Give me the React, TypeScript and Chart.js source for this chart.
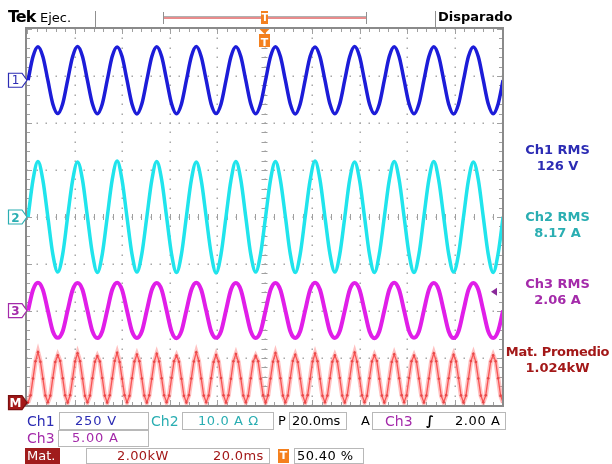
import React, { useEffect, useRef } from "react";
import { Chart, registerables } from "chart.js";
Chart.register(...registerables);

// ---- time base (20.0 ms/div, 10 divisions) ----
const timeMinMs = 0;
const timeMaxMs = 200;
const startMs = 0.45;
const lineStepMs = 200 / 96; // 8 samples per 60 Hz cycle
const powerStepMs = 200 / 192; // 16 samples per 60 Hz cycle

// ---- channel settings ----
const ch1VoltsPerDiv = 250;
const ch2AmpsPerDiv = 10;
const ch3AmpsPerDiv = 5;
const mathKwPerDiv = 2;
const ch1OffsetDiv = 2.91;
const ch2OffsetDiv = 0;
const ch3OffsetDiv = -1.99;
const mathOffsetDiv = -3.95;
const triggerLevelAmps = 2.0;

// ---- waveform readings ----
const ch1Volts = [
  0, 126, 178, 125, 0, -126, -177, -125,
  1, 125, 179, 126, -1, -125, -178, -126,
  0, 126, 177, 126, 0, -126, -179, -125,
  0, 125, 178, 126, 1, -125, -178, -126,
  0, 126, 179, 125, 0, -126, -177, -126,
  -1, 125, 178, 126, 0, -125, -178, -125,
  0, 126, 178, 126, 0, -126, -179, -126,
  1, 126, 177, 125, 0, -125, -178, -125,
  0, 125, 179, 126, -1, -126, -177, -126,
  0, 126, 178, 125, 0, -125, -178, -125,
  0, 125, 178, 126, 1, -126, -179, -126,
  0, 126, 177, 125, 0, -125, -178, -126,
  0,
];
const ch2Amps = [
  0, 7.9, 11.8, 7.8, 0, -7.9, -11.7, -7.9,
  0.1, 7.8, 11.7, 7.9, 0, -7.8, -11.8, -7.9,
  0, 7.9, 11.9, 7.8, -0.1, -7.9, -11.7, -7.8,
  0, 7.8, 11.8, 7.9, 0, -7.9, -11.8, -7.9,
  0.1, 7.9, 11.7, 7.8, 0, -7.8, -11.9, -7.9,
  0, 7.8, 11.8, 7.9, 0, -7.9, -11.7, -7.8,
  0, 7.9, 11.8, 7.8, 0.1, -7.9, -11.8, -7.9,
  0, 7.8, 11.9, 7.9, 0, -7.8, -11.7, -7.9,
  -0.1, 7.9, 11.7, 7.8, 0, -7.9, -11.8, -7.8,
  0, 7.8, 11.8, 7.9, 0, -7.9, -11.8, -7.9,
  0.1, 7.9, 11.8, 7.8, 0, -7.8, -11.7, -7.9,
  0, 7.8, 11.7, 7.9, 0, -7.9, -11.8, -7.8,
  0,
];
const ch3Amps = [
  0, 2.2, 2.95, 2.2, 0, -2.2, -2.9, -2.2,
  0.02, 2.18, 2.92, 2.21, 0, -2.19, -2.93, -2.2,
  0, 2.21, 2.96, 2.19, -0.02, -2.2, -2.91, -2.21,
  0, 2.19, 2.93, 2.2, 0, -2.21, -2.94, -2.19,
  0.02, 2.2, 2.95, 2.21, 0, -2.2, -2.9, -2.2,
  0, 2.21, 2.92, 2.19, 0, -2.19, -2.93, -2.21,
  0, 2.2, 2.94, 2.2, 0.02, -2.2, -2.92, -2.2,
  0, 2.19, 2.96, 2.21, 0, -2.21, -2.91, -2.19,
  -0.02, 2.2, 2.93, 2.2, 0, -2.2, -2.94, -2.2,
  0, 2.21, 2.95, 2.19, 0, -2.19, -2.9, -2.21,
  0.02, 2.2, 2.92, 2.2, 0, -2.2, -2.93, -2.2,
  0, 2.19, 2.94, 2.21, 0, -2.21, -2.92, -2.19,
  0,
];
const mathKw = [
  0.01, 0.31, 1.03, 1.76, 2.15, 1.74, 1.02, 0.30,
  0.02, 0.30, 1.05, 1.73, 2.02, 1.77, 1.04, 0.31,
  0.01, 0.32, 1.02, 1.75, 2.10, 1.76, 1.03, 0.29,
  0.02, 0.30, 1.04, 1.74, 1.98, 1.75, 1.05, 0.30,
  0.01, 0.31, 1.03, 1.77, 2.12, 1.73, 1.02, 0.32,
  0.02, 0.29, 1.04, 1.75, 2.05, 1.76, 1.03, 0.30,
  0.01, 0.31, 1.02, 1.74, 2.08, 1.75, 1.04, 0.31,
  0.02, 0.30, 1.05, 1.76, 2.00, 1.74, 1.02, 0.29,
  0.01, 0.32, 1.03, 1.75, 2.14, 1.77, 1.03, 0.30,
  0.02, 0.30, 1.04, 1.73, 2.03, 1.75, 1.05, 0.31,
  0.01, 0.31, 1.02, 1.76, 2.07, 1.74, 1.03, 0.30,
  0.02, 0.29, 1.04, 1.75, 1.99, 1.76, 1.02, 0.32,
  0.01, 0.31, 1.03, 1.74, 2.11, 1.75, 1.04, 0.30,
  0.02, 0.30, 1.05, 1.77, 2.04, 1.73, 1.03, 0.31,
  0.01, 0.32, 1.02, 1.75, 2.09, 1.76, 1.02, 0.29,
  0.02, 0.30, 1.04, 1.74, 2.01, 1.75, 1.05, 0.30,
  0.01, 0.31, 1.03, 1.76, 2.13, 1.74, 1.03, 0.31,
  0.02, 0.29, 1.04, 1.75, 2.02, 1.77, 1.02, 0.30,
  0.01, 0.30, 1.02, 1.73, 2.06, 1.75, 1.04, 0.32,
  0.02, 0.31, 1.05, 1.76, 2.00, 1.74, 1.03, 0.30,
  0.01, 0.30, 1.03, 1.75, 2.10, 1.76, 1.02, 0.29,
  0.02, 0.32, 1.04, 1.74, 2.04, 1.75, 1.05, 0.31,
  0.01, 0.30, 1.02, 1.77, 2.08, 1.73, 1.03, 0.30,
  0.02, 0.31, 1.04, 1.75, 2.02, 1.76, 1.04, 0.30,
  0.01,
];

const C1 = "#1c1cd8";
const C2 = "#20e4ec";
const C3 = "#e01ee8";
const CM = "#f02828";
const T1 = "#2c2cb4";
const T2 = "#2aaeb2";
const T3 = "#a42aaa";
const TM = "#a31818";
const ORANGE = "#f4801e";
const FONT = '"DejaVu Sans", sans-serif';

const axisFor = (perDiv: number, offsetDiv: number) => ({
  display: false,
  min: (-4 - offsetDiv) * perDiv,
  max: (4 - offsetDiv) * perDiv,
});

const toPoints = (vals: number[], step: number) =>
  vals.map((v, i) => ({ x: startMs + i * step, y: v }));

const markerShape = (ctx: CanvasRenderingContext2D, y: number, fill: string, stroke: string) => {
  ctx.beginPath();
  ctx.moveTo(8.5, y - 7);
  ctx.lineTo(22, y - 7);
  ctx.lineTo(27, y);
  ctx.lineTo(22, y + 7);
  ctx.lineTo(8.5, y + 7);
  ctx.closePath();
  ctx.fillStyle = fill;
  ctx.fill();
  ctx.strokeStyle = stroke;
  ctx.lineWidth = 1.2;
  ctx.stroke();
};

const scopePlugin = {
  id: "scope",
  beforeDatasetsDraw(chart: any) {
    const { ctx, chartArea: a, scales } = chart;
    const xs = scales.x;
    const divW = (a.right - a.left) / 10;
    const divH = (a.bottom - a.top) / 8;
    const cx = xs.getPixelForValue((timeMinMs + timeMaxMs) / 2);
    const cy = (a.top + a.bottom) / 2;
    ctx.save();
    ctx.fillStyle = "#a8a8a8";
    for (let i = 1; i < 10; i++) {
      const x = Math.round(xs.getPixelForValue(timeMinMs + i * 20));
      for (let j = 0; j <= 40; j++) {
        const y = Math.round(a.top + (j * divH) / 5);
        ctx.fillRect(x - 0.5, y - 0.5, 1.5, 1.5);
      }
    }
    for (let j = 1; j < 8; j++) {
      const y = Math.round(a.top + j * divH);
      for (let i = 0; i <= 50; i++) {
        const x = Math.round(a.left + (i * divW) / 5);
        ctx.fillRect(x - 0.5, y - 0.5, 1.5, 1.5);
      }
    }
    ctx.strokeStyle = "#a0a0a0";
    ctx.lineWidth = 1;
    ctx.beginPath();
    for (let i = 0; i <= 50; i++) {
      const x = Math.round(a.left + (i * divW) / 5) + 0.5;
      ctx.moveTo(x, cy - 3);
      ctx.lineTo(x, cy + 3);
      ctx.moveTo(x, a.top);
      ctx.lineTo(x, a.top + (i % 5 === 0 ? 5 : 3));
      ctx.moveTo(x, a.bottom);
      ctx.lineTo(x, a.bottom - (i % 5 === 0 ? 5 : 3));
    }
    for (let j = 0; j <= 40; j++) {
      const y = Math.round(a.top + (j * divH) / 5) + 0.5;
      ctx.moveTo(cx - 3, y);
      ctx.lineTo(cx + 3, y);
      ctx.moveTo(a.left, y);
      ctx.lineTo(a.left + (j % 5 === 0 ? 5 : 3), y);
      ctx.moveTo(a.right, y);
      ctx.lineTo(a.right - (j % 5 === 0 ? 5 : 3), y);
    }
    ctx.stroke();
    ctx.strokeStyle = "#8a8a8a";
    ctx.lineWidth = 2;
    ctx.strokeRect(a.left - 1, a.top - 1, a.right - a.left + 2, a.bottom - a.top + 2);
    ctx.restore();
  },
  afterDraw(chart: any) {
    const { ctx, chartArea: a, scales } = chart;
    const xs = scales.x;
    const tx = xs.getPixelForValue((timeMinMs + timeMaxMs) / 2);
    ctx.save();
    markerShape(ctx, scales.y1.getPixelForValue(0), "#ffffff", T1);
    markerShape(ctx, scales.y2.getPixelForValue(0), "#ffffff", T2);
    markerShape(ctx, scales.y3.getPixelForValue(0), "#ffffff", T3);
    markerShape(ctx, scales.ym.getPixelForValue(0), TM, "#7a1010");
    const ty = scales.y3.getPixelForValue(triggerLevelAmps);
    ctx.fillStyle = "#8a2a9a";
    ctx.beginPath();
    ctx.moveTo(a.right - 11, ty);
    ctx.lineTo(a.right - 5, ty - 4);
    ctx.lineTo(a.right - 5, ty + 4);
    ctx.closePath();
    ctx.fill();
    ctx.fillStyle = ORANGE;
    ctx.beginPath();
    ctx.moveTo(tx - 5, a.top);
    ctx.lineTo(tx + 5, a.top);
    ctx.lineTo(tx, a.top + 5);
    ctx.closePath();
    ctx.fill();
    ctx.fillRect(tx - 5.5, a.top + 5, 11, 13);
    ctx.strokeStyle = "#909090";
    ctx.lineWidth = 1;
    ctx.beginPath();
    ctx.moveTo(95.5, 11);
    ctx.lineTo(95.5, 27);
    ctx.moveTo(435.5, 11);
    ctx.lineTo(435.5, 27);
    ctx.moveTo(163.5, 12);
    ctx.lineTo(163.5, 24);
    ctx.moveTo(366.5, 12);
    ctx.lineTo(366.5, 24);
    ctx.stroke();
    ctx.strokeStyle = "#e88c8c";
    ctx.lineWidth = 2;
    ctx.beginPath();
    ctx.moveTo(164, 18);
    ctx.lineTo(366, 18);
    ctx.stroke();
    ctx.strokeStyle = "#b0b0b0";
    ctx.lineWidth = 1;
    ctx.beginPath();
    ctx.moveTo(164, 16.5);
    ctx.lineTo(366, 16.5);
    ctx.stroke();
    ctx.fillStyle = ORANGE;
    ctx.fillRect(tx - 3.5, 11, 7, 13);
    ctx.restore();
  },
};

const Txt = (p: any) => (
  <div
    style={{
      position: "absolute",
      left: p.x,
      top: p.y,
      width: p.w,
      textAlign: p.align || "left",
      color: p.color || "#000",
      font: `${p.weight || "normal"} ${p.size || 13}px ${FONT}`,
      letterSpacing: p.ls !== undefined ? p.ls : 0,
      lineHeight: "16px",
      whiteSpace: "nowrap",
      background: p.bg,
    }}
  >
    {p.children}
  </div>
);

const Box = (p: any) => (
  <div
    style={{
      position: "absolute",
      left: p.x,
      top: p.y,
      width: p.w,
      height: p.h,
      border: "1px solid #b8b8b8",
      boxSizing: "border-box",
      background: p.bg,
    }}
  />
);

export default function App() {
  const ref = useRef<HTMLCanvasElement>(null);
  useEffect(() => {
    document.body.style.margin = "0";
    const chart = new Chart(ref.current as HTMLCanvasElement, {
      type: "line",
      data: {
        datasets: [
          {
            data: toPoints(ch1Volts, lineStepMs),
            yAxisID: "y1",
            borderColor: C1,
            borderWidth: 3.5,
            pointRadius: 0,
            cubicInterpolationMode: "monotone",
          },
          {
            data: toPoints(ch2Amps, lineStepMs),
            yAxisID: "y2",
            borderColor: C2,
            borderWidth: 3.5,
            pointRadius: 0,
            cubicInterpolationMode: "monotone",
          },
          {
            data: toPoints(ch3Amps, lineStepMs),
            yAxisID: "y3",
            borderColor: C3,
            borderWidth: 4,
            pointRadius: 0,
            cubicInterpolationMode: "monotone",
          },
          {
            data: toPoints(mathKw, powerStepMs),
            yAxisID: "ym",
            borderColor: "rgba(255,130,130,0.5)",
            borderWidth: 4.5,
            pointRadius: 0,
          },
          {
            data: toPoints(mathKw, powerStepMs),
            yAxisID: "ym",
            borderColor: CM,
            borderWidth: 1.3,
            pointRadius: 1.3,
            pointBorderWidth: 0,
            pointBackgroundColor: "#d01010",
          },
        ],
      } as any,
      options: {
        animation: false,
        responsive: false,
        maintainAspectRatio: false,
        events: [],
        layout: { padding: { left: 27, top: 29, right: 110, bottom: 59 } },
        plugins: { legend: { display: false }, tooltip: { enabled: false } },
        scales: {
          x: { type: "linear", display: false, min: timeMinMs, max: timeMaxMs },
          y1: axisFor(ch1VoltsPerDiv, ch1OffsetDiv),
          y2: axisFor(ch2AmpsPerDiv, ch2OffsetDiv),
          y3: axisFor(ch3AmpsPerDiv, ch3OffsetDiv),
          ym: axisFor(mathKwPerDiv, mathOffsetDiv),
        } as any,
      },
      plugins: [scopePlugin],
    });
    return () => chart.destroy();
  }, []);

  return (
    <div style={{ position: "fixed", left: 0, top: 0, width: 612, height: 464, background: "#fff", overflow: "hidden" }}>
      <canvas ref={ref} width={612} height={464} style={{ position: "absolute", left: 0, top: 0 }} />
      {/* header */}
      <Txt x={8} y={9} size={16} weight="bold" ls={-1}>Tek</Txt>
      <Txt x={40} y={10} size={13}>Ejec.</Txt>
      <Txt x={261} y={10} size={10} weight="bold" color="#fff" w={8} align="center">T</Txt>
      <Txt x={438} y={9} size={13} weight="bold">Disparado</Txt>
      <Txt x={259} y={35} size={11} weight="bold" color="#fff" w={11} align="center">T</Txt>
      {/* channel markers */}
      <Txt x={9} y={72} size={12} color={T1} w={13} align="center">1</Txt>
      <Txt x={9} y={210} size={12} weight="bold" color={T2} w={13} align="center">2</Txt>
      <Txt x={9} y={303} size={12} weight="bold" color={T3} w={13} align="center">3</Txt>
      <Txt x={9} y={395} size={12} weight="bold" color="#fff" w={13} align="center">M</Txt>
      {/* right readouts */}
      <Txt x={503} y={142} w={109} align="center" weight="bold" color={T1}>Ch1 RMS</Txt>
      <Txt x={503} y={158} w={109} align="center" weight="bold" color={T1}>126 V</Txt>
      <Txt x={503} y={209} w={109} align="center" weight="bold" color={T2}>Ch2 RMS</Txt>
      <Txt x={503} y={225} w={109} align="center" weight="bold" color={T2}>8.17 A</Txt>
      <Txt x={503} y={276} w={109} align="center" weight="bold" color={T3}>Ch3 RMS</Txt>
      <Txt x={503} y={292} w={109} align="center" weight="bold" color={T3}>2.06 A</Txt>
      <Txt x={501} y={344} w={113} align="center" weight="bold" color={TM} ls={-0.3}>Mat. Promedio</Txt>
      <Txt x={503} y={360} w={109} align="center" weight="bold" color={TM}>1.024kW</Txt>
      {/* bottom row 1 */}
      <Box x={59} y={412} w={90} h={18} />
      <Box x={182} y={412} w={92} h={18} />
      <Box x={289} y={412} w={58} h={18} />
      <Box x={372} y={412} w={134} h={18} />
      <Txt x={27} y={413} size={14} color={T1}>Ch1</Txt>
      <Txt x={75} y={413} size={13} color={T1} ls={0.8}>250 V</Txt>
      <Txt x={151} y={413} size={14} color={T2}>Ch2</Txt>
      <Txt x={198} y={413} size={13} color={T2} ls={0.6}>10.0 A Ω</Txt>
      <Txt x={278} y={413} size={13}>P</Txt>
      <Txt x={292} y={413} size={13}>20.0ms</Txt>
      <Txt x={361} y={413} size={13}>A</Txt>
      <Txt x={385} y={413} size={14} color={T3}>Ch3</Txt>
      <Txt x={426} y={413} size={13} weight="bold">∫</Txt>
      <Txt x={455} y={413} size={13} ls={0.6}>2.00 A</Txt>
      {/* bottom row 2 */}
      <Box x={58} y={430} w={91} h={17} />
      <Txt x={27} y={430} size={14} color={T3}>Ch3</Txt>
      <Txt x={72} y={430} size={13} color={T3} ls={0.8}>5.00 A</Txt>
      {/* bottom row 3 */}
      <div style={{ position: "absolute", left: 25, top: 448, width: 35, height: 16, background: "#a01c1c" }} />
      <Txt x={27} y={448} size={13} color="#fff">Mat.</Txt>
      <Box x={86} y={448} w={184} h={16} />
      <Txt x={117} y={448} size={13} color={TM} ls={0.4}>2.00kW</Txt>
      <Txt x={213} y={448} size={13} color={TM} ls={0.4}>20.0ms</Txt>
      <div style={{ position: "absolute", left: 278, top: 449, width: 11, height: 14, background: ORANGE }} />
      <Txt x={278} y={448} size={11} weight="bold" color="#fff" w={11} align="center">T</Txt>
      <Box x={294} y={448} w={70} h={16} />
      <Txt x={297} y={448} size={13} ls={0.4}>50.40 %</Txt>
    </div>
  );
}
